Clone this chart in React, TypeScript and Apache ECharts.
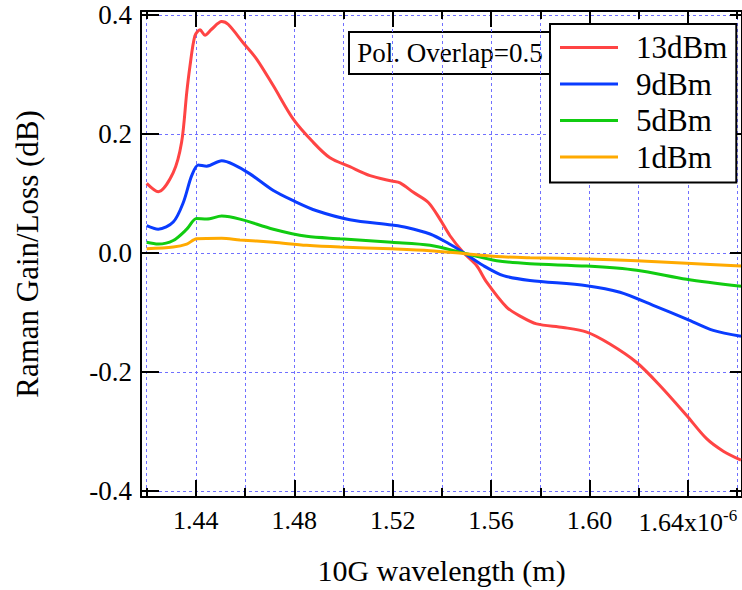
import React, { useEffect, useRef } from 'react';
import * as echarts from 'echarts';

const FONT = '"Liberation Serif", "Times New Roman", serif';

const xMajorTicks = [1.44, 1.48, 1.52, 1.56, 1.6, 1.64];
const xAllTicks = [1.42, 1.44, 1.46, 1.48, 1.5, 1.52, 1.54, 1.56, 1.58, 1.6, 1.62, 1.64, 1.66];
const yTicks = [-0.4, -0.2, 0, 0.2, 0.4];

const seriesNames = ['13dBm', '9dBm', '5dBm', '1dBm'];
const seriesColors = ['#ff4444', '#0a3cff', '#11cc11', '#ffaa00'];

const x13 = [1.42, 1.4247, 1.4308, 1.4342, 1.4363, 1.4376, 1.4396, 1.4417, 1.4437, 1.4464, 1.4505, 1.4532, 1.4593, 1.4647, 1.4715, 1.4796, 1.4877, 1.4945, 1.5026, 1.5108, 1.5196, 1.523, 1.5284, 1.5345, 1.5392, 1.5433, 1.5487, 1.5541, 1.5582, 1.5663, 1.5718, 1.5785, 1.5893, 1.5989, 1.6083, 1.6192, 1.6287, 1.6395, 1.6476, 1.6544, 1.6616];
const y13 = [0.117, 0.103, 0.135, 0.186, 0.27, 0.314, 0.365, 0.375, 0.366, 0.376, 0.389, 0.384, 0.353, 0.326, 0.281, 0.225, 0.186, 0.16, 0.145, 0.13, 0.121, 0.118, 0.102, 0.085, 0.057, 0.029, 0.001, -0.021, -0.049, -0.091, -0.106, -0.119, -0.125, -0.133, -0.153, -0.184, -0.223, -0.273, -0.312, -0.333, -0.348];

const x9 = [1.42, 1.4247, 1.4308, 1.4349, 1.4383, 1.441, 1.4444, 1.4505, 1.4552, 1.462, 1.4715, 1.4796, 1.4891, 1.5026, 1.5196, 1.5257, 1.5352, 1.5419, 1.5487, 1.5568, 1.565, 1.5758, 1.5989, 1.6124, 1.6259, 1.6395, 1.6503, 1.6616];
const y9 = [0.046, 0.04, 0.052, 0.085, 0.13, 0.148, 0.146, 0.155, 0.149, 0.133, 0.105, 0.088, 0.071, 0.056, 0.047, 0.043, 0.032, 0.018, 0.001, -0.021, -0.038, -0.046, -0.055, -0.066, -0.088, -0.111, -0.13, -0.14];

const x5 = [1.42, 1.4247, 1.4308, 1.4363, 1.4403, 1.4444, 1.4505, 1.4579, 1.4715, 1.485, 1.4986, 1.5196, 1.5352, 1.5487, 1.5623, 1.5758, 1.5989, 1.6192, 1.6395, 1.6616];
const y5 = [0.018, 0.015, 0.021, 0.04, 0.058, 0.057, 0.062, 0.057, 0.04, 0.028, 0.024, 0.018, 0.013, 0.0, -0.013, -0.018, -0.022, -0.029, -0.044, -0.056];

const x1 = [1.42, 1.4308, 1.4363, 1.4403, 1.4505, 1.4579, 1.4715, 1.485, 1.4986, 1.5196, 1.5352, 1.5487, 1.5623, 1.5758, 1.5989, 1.6192, 1.6395, 1.6616];
const y1 = [0.007, 0.01, 0.015, 0.024, 0.025, 0.022, 0.018, 0.013, 0.01, 0.007, 0.004, -0.001, -0.006, -0.008, -0.01, -0.013, -0.017, -0.022];

const xs = [x13, x9, x5, x1];
const ys = [y13, y9, y5, y1];

const X_MIN = 1.4177;
const X_MAX = 1.662;
const Y_MIN = -0.41;
const Y_MAX = 0.4067;

export default function App() {
  const ref = useRef<HTMLDivElement>(null);
  useEffect(() => {
    if (!ref.current) return;
    const chart = echarts.init(ref.current, undefined, { renderer: 'svg' });
    const gridLine = { show: true, lineStyle: { color: '#7070ff', width: 1, type: [3, 3] as any } };
    const noLine = { show: false };
    const option: any = {
      animation: false,
      backgroundColor: '#ffffff',
      textStyle: { fontFamily: FONT },
      grid: { left: 141, right: 0, top: 11, bottom: 92, containLabel: false },
      xAxis: [
        {
          type: 'value', position: 'bottom', min: X_MIN, max: X_MAX,
          axisLine: { show: true, onZero: false, lineStyle: { color: '#000', width: 2 } },
          axisTick: { show: true, inside: true, length: 17, customValues: xMajorTicks, lineStyle: { color: '#000', width: 2 } },
          axisLabel: {
            show: true, margin: 10, customValues: xMajorTicks, color: '#000', fontSize: 26, fontFamily: FONT,
            formatter: (v: number) => (Math.abs(v - 1.64) < 1e-6 ? '{a|1.64x10}{b|-6}' : '{a|' + v.toFixed(2) + '}'),
            rich: {
              a: { fontSize: 26, fontFamily: FONT, color: '#000' },
              b: { fontSize: 17, fontFamily: FONT, color: '#000', padding: [0, 0, 14, 0] },
            },
          },
          splitLine: noLine,
          name: '10G wavelength (m)', nameLocation: 'middle', nameGap: 58,
          nameTextStyle: { fontSize: 30, fontFamily: FONT, color: '#000' },
        },
        {
          type: 'value', position: 'bottom', min: X_MIN, max: X_MAX,
          axisLine: { show: false, onZero: false },
          axisTick: { show: true, inside: true, length: 9, customValues: xAllTicks, lineStyle: { color: '#000', width: 2 } },
          axisLabel: { show: false },
          splitLine: gridLine,
        },
        {
          type: 'value', position: 'top', min: X_MIN, max: X_MAX,
          axisLine: { show: true, onZero: false, lineStyle: { color: '#000', width: 2 } },
          axisTick: { show: true, inside: true, length: 16, customValues: xMajorTicks, lineStyle: { color: '#000', width: 2 } },
          axisLabel: { show: false },
          splitLine: noLine,
        },
        {
          type: 'value', position: 'top', min: X_MIN, max: X_MAX,
          axisLine: { show: false, onZero: false },
          axisTick: { show: true, inside: true, length: 8, customValues: xAllTicks, lineStyle: { color: '#000', width: 2 } },
          axisLabel: { show: false },
          splitLine: noLine,
        },
      ],
      yAxis: [
        {
          type: 'value', position: 'left', min: Y_MIN, max: Y_MAX,
          axisLine: { show: true, onZero: false, lineStyle: { color: '#000', width: 2 } },
          axisTick: { show: true, inside: true, length: 18, customValues: yTicks, lineStyle: { color: '#000', width: 2 } },
          axisLabel: {
            show: true, margin: 9, customValues: yTicks, color: '#000', fontSize: 27, fontFamily: FONT,
            formatter: (v: number) => v.toFixed(1),
          },
          splitLine: gridLine,
          name: 'Raman Gain/Loss (dB)', nameLocation: 'middle', nameGap: 98, nameRotate: 90,
          nameTextStyle: { fontSize: 31, fontFamily: FONT, color: '#000' },
        },
        {
          type: 'value', position: 'right', min: Y_MIN, max: Y_MAX,
          axisLine: { show: true, onZero: false, lineStyle: { color: '#000', width: 2 } },
          axisTick: { show: true, inside: true, length: 12, customValues: yTicks, lineStyle: { color: '#000', width: 2 } },
          axisLabel: { show: false },
          splitLine: noLine,
        },
      ],
      legend: {
        show: true,
        orient: 'vertical',
        left: 550,
        top: 24,
        icon: 'rect',
        itemWidth: 58,
        itemHeight: 3,
        itemGap: 5.5,
        padding: [8, 9, 10, 10],
        backgroundColor: '#ffffff',
        borderColor: '#000',
        borderWidth: 2,
        borderRadius: 0,
        data: seriesNames,
        formatter: '{t|{name}}',
        textStyle: {
          fontSize: 31, fontFamily: FONT, color: '#000',
          rich: { t: { fontSize: 31, lineHeight: 31, fontFamily: FONT, color: '#000', padding: [0, 0, 0, 13] } },
        },
      },
      graphic: [
        {
          type: 'group', left: 348, top: 31, z: 100,
          children: [
            { type: 'rect', shape: { x: 0, y: 0, width: 202, height: 42 }, style: { fill: '#fff', stroke: '#000', lineWidth: 2 } },
            { type: 'text', x: 101, y: 21, style: { text: 'Pol. Overlap=0.5', fontSize: 27, fontFamily: FONT, fill: '#000', align: 'center', verticalAlign: 'middle' } },
          ],
        },
      ],
      series: seriesNames.map((name, i) => ({
        name,
        type: 'line',
        xAxisIndex: 0,
        yAxisIndex: 0,
        data: xs[i].map((x, j) => [x, ys[i][j]]),
        showSymbol: false,
        symbol: 'none',
        smooth: 0.3,
        color: seriesColors[i],
        lineStyle: { color: seriesColors[i], width: 3 },
        z: 3,
      })),
    };
    chart.setOption(option);
    return () => chart.dispose();
  }, []);
  return <div ref={ref} style={{ position: 'fixed', left: 0, top: 0, width: 742, height: 590 }} />;
}
